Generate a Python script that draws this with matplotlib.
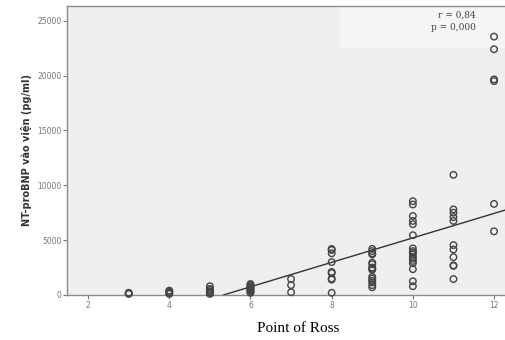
import matplotlib.pyplot as plt
from matplotlib.patches import Rectangle

# Ross score vs NT-proBNP on admission
ross_3 = [100, 150, 200]
ross_4 = [100, 200, 300, 400]
ross_5 = [100, 200, 300, 450, 550, 800]
ross_6 = [200, 300, 400, 500, 600, 700, 800, 900, 1000]
ross_7 = [250, 900, 1450]
ross_8 = [200, 1400, 1500, 2000, 2100, 3000, 3800, 4100, 4200]
ross_9 = [700, 900, 1150, 1300, 1500, 1650, 2300, 2400, 2500,
          2800, 2950, 3700, 3800, 4000, 4200]
ross_10 = [800, 1250, 2350, 2900, 3100, 3300, 3450, 3700, 3850, 4000,
           4250, 5450, 6450, 6750, 7200, 8250, 8550]
ross_11 = [1450, 2650, 2700, 3450, 4150, 4550, 6750, 7100, 7500,
           7800, 10950]
ross_12 = [5800, 8300, 19500, 19650, 22400, 23550]

groups = {3: ross_3, 4: ross_4, 5: ross_5, 6: ross_6, 7: ross_7,
          8: ross_8, 9: ross_9, 10: ross_10, 11: ross_11, 12: ross_12}

# linear fit shown on the chart
fit_slope = 1115.0
fit_intercept = -5945.0

x_ticks = [2, 4, 6, 8, 10, 12]
y_ticks = [0, 5000, 10000, 15000, 20000, 25000]

fig = plt.figure(figsize=(5.05, 3.4), dpi=100)
ax = fig.add_axes([67 / 505, 45 / 340, 1 - 67 / 505, 289 / 340])
ax.set_facecolor("#efefef")

xs, ys = [], []
for k, vals in groups.items():
    xs += [k] * len(vals)
    ys += vals
ax.scatter(xs, ys, s=22, facecolors="none", edgecolors="#444444",
           linewidths=1.0, zorder=3, clip_on=False)

x0 = -fit_intercept / fit_slope
x1 = 12.3
ax.plot([x0, x1], [0, fit_slope * x1 + fit_intercept], color="#333333",
        lw=1.0, zorder=2)

# lighter box behind the statistics
ax.add_patch(Rectangle((8.2, 22500), 4.3, 3900, facecolor="#f5f5f5",
                       edgecolor="none", zorder=1))
ax.text(11.55, 25500, "r = 0,84", ha="right", va="center", fontsize=6.5,
        color="#444444", family="DejaVu Serif")
ax.text(11.55, 24400, "p = 0,000", ha="right", va="center", fontsize=6.5,
        color="#444444", family="DejaVu Serif")

ax.set_xlim(1.48, 12.27)
ax.set_ylim(0, 26340)
ax.set_xticks(x_ticks)
ax.set_yticks(y_ticks)
ax.tick_params(axis="both", labelsize=5.5, colors="#777777", length=3,
               width=0.8, pad=1.5)
ax.tick_params(axis="y", pad=1)
for side in ["left", "bottom", "top"]:
    ax.spines[side].set_color("#8a8a8a")
    ax.spines[side].set_linewidth(1.0)
ax.spines["right"].set_visible(False)

ax.set_ylabel("NT-proBNP vào viện (pg/ml)", fontsize=7, fontweight="bold",
              color="#333333", labelpad=4)
fig.text(298 / 505, 1 - 328 / 340, "Point of Ross", ha="center",
         va="center", fontsize=11, family="Liberation Serif")

fig.savefig("out.png", dpi=100)
